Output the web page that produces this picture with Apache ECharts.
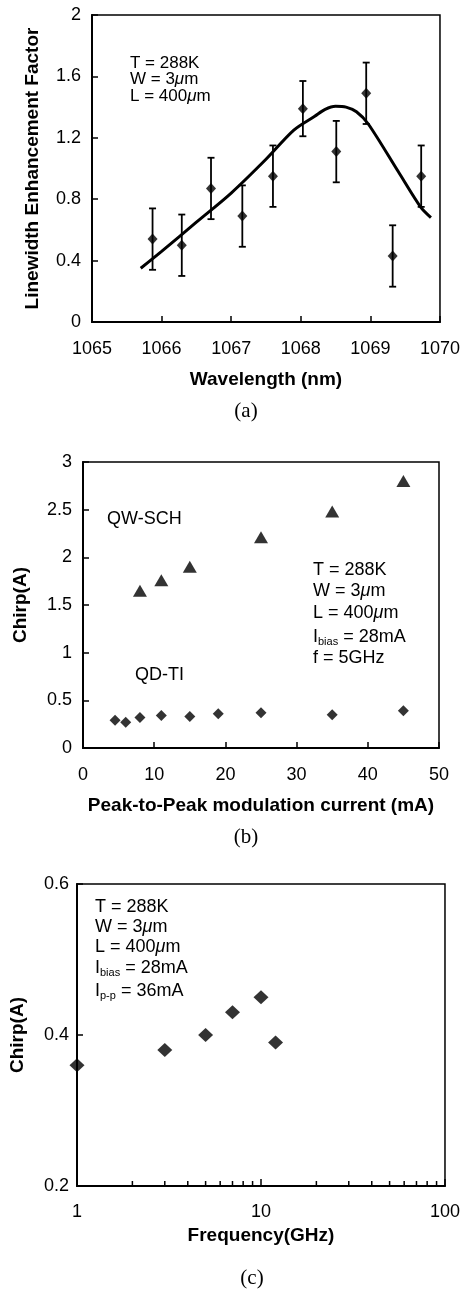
<!DOCTYPE html>
<html>
<head>
<meta charset="utf-8">
<script src="https://cdn.jsdelivr.net/npm/echarts@6/dist/echarts.min.js"></script>
<style>
    html, body { margin: 0; padding: 0; background: #fff; }
    #chart { width: 463px; height: 1290px; }
</style>
</head>
<body>
<div id="chart"></div>
<script>
// (a) linewidth enhancement factor vs wavelength
var aWave  = [1065.87, 1066.29, 1066.71, 1067.16, 1067.6, 1068.03, 1068.51, 1068.94, 1069.32, 1069.73];
var aAlpha = [0.54, 0.50, 0.87, 0.69, 0.95, 1.39, 1.11, 1.49, 0.43, 0.95];
var aErr   = [0.2, 0.2, 0.2, 0.2, 0.2, 0.18, 0.2, 0.2, 0.2, 0.2];
var fitWave  = [1065.7, 1066.0, 1066.5, 1067.0, 1067.5, 1067.9, 1068.2, 1068.35, 1068.5, 1068.65, 1068.8, 1068.97, 1069.4, 1069.72, 1069.87];
var fitAlpha = [0.35, 0.46, 0.65, 0.84, 1.06, 1.25, 1.34, 1.385, 1.405, 1.40, 1.37, 1.29, 0.98, 0.75, 0.68];

// (b) chirp vs peak-to-peak modulation current
var qwCurrent = [8, 11, 15, 25, 35, 45];
var qwChirp   = [1.65, 1.76, 1.90, 2.21, 2.48, 2.80];
var qdCurrent = [4.5, 6, 8, 11, 15, 19, 25, 35, 45];
var qdChirp   = [0.29, 0.27, 0.32, 0.34, 0.33, 0.36, 0.37, 0.35, 0.39];

// (c) chirp vs frequency
var freq      = [1, 3, 5, 7, 10, 12];
var freqChirp = [0.36, 0.38, 0.40, 0.43, 0.45, 0.39];
var logMinor  = [2, 3, 4, 5, 6, 7, 8, 9, 20, 30, 40, 50, 60, 70, 80, 90];

var infoA = ['T = 288K', 'W = 3{mu|μ}m', 'L = 400{mu|μ}m'];
var infoB = ['T = 288K', 'W = 3{mu|μ}m', 'L = 400{mu|μ}m', 'I{sub|bias} = 28mA', 'f = 5GHz'];
var infoC = ['T = 288K', 'W = 3{mu|μ}m', 'L = 400{mu|μ}m', 'I{sub|bias} = 28mA', 'I{sub|p-p} = 36mA'];

var SANS = '"Liberation Sans", Arial, sans-serif';
var SERIF = '"Liberation Serif", "Times New Roman", serif';

function zip(xs, ys) {
    var out = [];
    for (var i = 0; i < xs.length; i++) {
        out.push([xs[i], ys[i]]);
    }
    return out;
}

function plainNum(v) {
    return String(Math.round(v * 100) / 100);
}

function xAx(idx, opt) {
    var o = {
        gridIndex: idx,
        type: 'value',
        nameLocation: 'middle',
        nameTextStyle: { fontFamily: SANS, fontWeight: 'bold', fontSize: 19, color: '#000' },
        axisLine: { show: true, onZero: false, lineStyle: { color: '#000', width: 2 } },
        axisTick: { show: true, inside: true, length: 6, lineStyle: { color: '#000', width: 1.5 } },
        axisLabel: { color: '#000', fontFamily: SANS, fontSize: 18, margin: 18, formatter: plainNum },
        splitLine: { show: false }
    };
    for (var k in opt) o[k] = opt[k];
    return o;
}

function yAx(idx, opt) {
    var o = {
        gridIndex: idx,
        type: 'value',
        nameLocation: 'middle',
        nameTextStyle: { fontFamily: SANS, fontWeight: 'bold', fontSize: 19, color: '#000' },
        axisLine: { show: true, onZero: false, lineStyle: { color: '#000', width: 2 } },
        axisTick: { show: true, inside: true, length: 6, lineStyle: { color: '#000', width: 1.5 } },
        axisLabel: { color: '#000', fontFamily: SANS, fontSize: 18, margin: 11, formatter: plainNum },
        splitLine: { show: false }
    };
    for (var k in opt) o[k] = opt[k];
    return o;
}

function renderErr(params, api) {
    var x = api.value(0);
    var top = api.coord([x, api.value(2)]);
    var bot = api.coord([x, api.value(1)]);
    var w = 3.5;
    var st = { stroke: '#000', lineWidth: 1.8 };
    return {
        type: 'group',
        children: [
            { type: 'line', shape: { x1: top[0], y1: top[1], x2: bot[0], y2: bot[1] }, style: st },
            { type: 'line', shape: { x1: top[0] - w, y1: top[1], x2: top[0] + w, y2: top[1] }, style: st },
            { type: 'line', shape: { x1: bot[0] - w, y1: bot[1], x2: bot[0] + w, y2: bot[1] }, style: st }
        ]
    };
}

// log axis minor ticks (2..9, 20..90), drawn upward from the bottom axis
function renderMinor(params, api) {
    var p = api.coord([api.value(0), api.value(1)]);
    return {
        type: 'line',
        shape: { x1: p[0], y1: p[1], x2: p[0], y2: p[1] - 5 },
        style: { stroke: '#000', lineWidth: 1.5 }
    };
}

function textBlock(lines, x, ys, size) {
    var els = [];
    for (var i = 0; i < lines.length; i++) {
        els.push({
            type: 'text',
            x: x,
            y: ys[i],
            style: {
                text: lines[i],
                fill: '#000',
                fontFamily: SANS,
                fontSize: size,
                verticalAlign: 'middle',
                rich: {
                    mu: { fontFamily: SANS, fontSize: size, fontStyle: 'italic', fill: '#000' },
                    sub: { fontFamily: SANS, fontSize: 11, fill: '#000', padding: [9, 0, 0, 0] }
                }
            }
        });
    }
    return els;
}

function label(txt, x, y, size, family) {
    return {
        type: 'text',
        x: x,
        y: y,
        style: {
            text: txt, fill: '#000', fontFamily: family, fontSize: size,
            align: 'left', verticalAlign: 'middle'
        }
    };
}

function centered(txt, x, y) {
    return {
        type: 'text',
        x: x,
        y: y,
        style: { text: txt, fill: '#000', fontFamily: SERIF, fontSize: 21, align: 'center', verticalAlign: 'middle' }
    };
}

(function() {
    var chart = echarts.init(document.getElementById('chart'));

    var errData = [];
    for (var i = 0; i < aWave.length; i++) {
        errData.push([aWave[i], aAlpha[i] - aErr[i], aAlpha[i] + aErr[i]]);
    }

    var minorData = [];
    for (var j = 0; j < logMinor.length; j++) {
        minorData.push([logMinor[j], 0.2]);
    }

    var gridStyle = { show: true, borderColor: '#000', borderWidth: 1.5, backgroundColor: 'transparent' };
    var grids = [
        Object.assign({ left: 92, top: 15, width: 350, height: 307 }, gridStyle),
        Object.assign({ left: 83, top: 462, width: 356, height: 286 }, gridStyle),
        Object.assign({ left: 77, top: 884, width: 369, height: 302 }, gridStyle)
    ];

    var graphics = []
        .concat(textBlock(infoA, 130, [63, 79.5, 96], 17))
        .concat(textBlock(infoB, 313, [570, 591, 613, 637, 658], 18))
        .concat(textBlock(infoC, 95, [907, 927, 947, 968, 991], 18))
        .concat([
            label('QW-SCH', 107, 519, 18, SANS),
            label('QD-TI', 135, 675, 18, SANS),
            centered('(a)', 246, 411),
            centered('(b)', 246, 837),
            centered('(c)', 252, 1278)
        ]);

    var option = {
        backgroundColor: '#fff',
        animation: false,
        grid: grids,
        xAxis: [
            xAx(0, { min: 1065, max: 1070, interval: 1, name: 'Wavelength (nm)', nameGap: 48 }),
            xAx(1, { min: 0, max: 50, interval: 10, name: 'Peak-to-Peak modulation current (mA)', nameGap: 48 }),
            xAx(2, {
                type: 'log', logBase: 10, min: 1, max: 100, name: 'Frequency(GHz)', nameGap: 40,
                axisTick: { show: true, inside: true, length: 7, lineStyle: { color: '#000', width: 1.5 } },
                axisLabel: { color: '#000', fontFamily: SANS, fontSize: 18, margin: 17, formatter: plainNum }
            })
        ],
        yAxis: [
            yAx(0, { min: 0, max: 2, interval: 0.4, name: 'Linewidth Enhancement Factor', nameGap: 50 }),
            yAx(1, { min: 0, max: 3, interval: 0.5, name: 'Chirp(A)', nameGap: 53 }),
            yAx(2, {
                min: 0.2, max: 0.6, interval: 0.2, name: 'Chirp(A)', nameGap: 50,
                axisLabel: { color: '#000', fontFamily: SANS, fontSize: 18, margin: 8, formatter: plainNum }
            })
        ],
        graphic: graphics,
        series: [
            {
                type: 'line', xAxisIndex: 0, yAxisIndex: 0,
                data: zip(fitWave, fitAlpha), smooth: 0.3, symbol: 'none',
                lineStyle: { color: '#000', width: 3 }
            },
            {
                type: 'custom', xAxisIndex: 0, yAxisIndex: 0,
                data: errData, renderItem: renderErr,
                encode: { x: 0, y: [1, 2] }
            },
            {
                type: 'scatter', xAxisIndex: 0, yAxisIndex: 0,
                data: zip(aWave, aAlpha), symbol: 'diamond', symbolSize: [10, 11],
                itemStyle: { color: '#000' }
            },
            {
                type: 'scatter', xAxisIndex: 1, yAxisIndex: 1,
                data: zip(qwCurrent, qwChirp), symbol: 'triangle', symbolSize: [14, 12],
                itemStyle: { color: '#000' }
            },
            {
                type: 'scatter', xAxisIndex: 1, yAxisIndex: 1,
                data: zip(qdCurrent, qdChirp), symbol: 'diamond', symbolSize: [11, 11],
                itemStyle: { color: '#000' }
            },
            {
                type: 'custom', xAxisIndex: 2, yAxisIndex: 2,
                data: minorData, renderItem: renderMinor,
                encode: { x: 0, y: 1 }, clip: false
            },
            {
                type: 'scatter', xAxisIndex: 2, yAxisIndex: 2,
                data: zip(freq, freqChirp), symbol: 'diamond', symbolSize: [15, 14],
                itemStyle: { color: '#000' }
            }
        ]
    };

    chart.setOption(option);
})();
</script>
</body>
</html>
